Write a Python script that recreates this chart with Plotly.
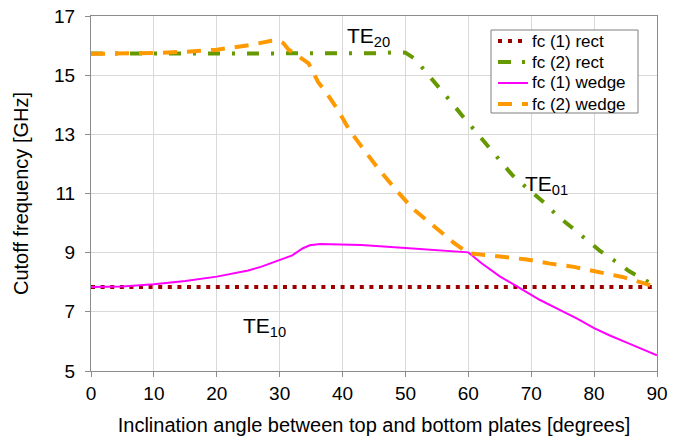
import plotly.graph_objects as go

# ---- data ----
angle_rect1 = [0, 90]
fc1_rect = [7.84, 7.84]

angle_rect2 = [0, 10, 20, 30, 40, 46, 48, 50, 51.5, 53, 55, 57, 59, 61, 63, 65, 67,
               69.5, 72, 74, 76.5, 78.8, 81, 83.8, 85.6, 87.2, 90]
fc2_rect = [15.73, 15.73, 15.73, 15.73, 15.73, 15.74, 15.77, 15.76, 15.55, 15.18, 14.68,
            14.16, 13.64, 13.13, 12.6, 12.1, 11.62, 11.15, 10.7, 10.28, 9.84, 9.43, 9.05,
            8.65, 8.37, 8.18, 7.85]

angle_wedge1 = [0, 5, 10, 15, 20, 25, 27, 30, 32, 33.7, 34.8, 36.4, 40, 43, 50, 55, 60,
                62, 65, 68.2, 71.4, 74.6, 77.3, 80, 82.5, 85.2, 87.5, 90]
fc1_wedge = [7.84, 7.86, 7.93, 8.04, 8.19, 8.4, 8.52, 8.75, 8.91, 9.15, 9.25, 9.29, 9.28,
             9.26, 9.16, 9.09, 9.01, 8.66, 8.2, 7.8, 7.4, 7.06, 6.77, 6.45, 6.2, 5.96,
             5.75, 5.53]

angle_wedge2 = [0, 5, 10, 15, 20, 25.3, 27, 28.7, 29.8, 30.6, 31.4, 32.7, 34.6, 36.1, 37.7,
                39.3, 41.1, 43.5, 45.9, 48.6, 51.2, 54.4, 57.6, 60, 65, 69.3, 73, 76.8,
                79.9, 84.5, 88.5, 90]
fc2_wedge = [15.72, 15.73, 15.75, 15.79, 15.86, 16.02, 16.1, 16.16, 16.17, 16.08, 15.87,
             15.68, 15.4, 14.77, 14.32, 13.81, 13.14, 12.45, 11.78, 11.1, 10.48, 9.92,
             9.35, 8.98, 8.88, 8.77, 8.63, 8.52, 8.38, 8.18, 7.93, 7.85]

series_names = ["fc (1) rect", "fc (2) rect", "fc (1) wedge", "fc (2) wedge"]

x_ticks = [0, 10, 20, 30, 40, 50, 60, 70, 80, 90]
y_ticks = [5, 7, 9, 11, 13, 15, 17]

FONT = "Liberation Sans, Arial, sans-serif"

styles = [
    dict(color="#990000", width=4, dash="4px,5.6px"),
    dict(color="#669900", width=4, dash="12px,12px,3px,12px"),
    dict(color="#FF00FF", width=2),
    dict(color="#FF9900", width=4, dash="14px,10px"),
]
legend_styles = [
    dict(color="#990000", width=4, dash="4px,6px"),
    dict(color="#669900", width=4, dash="13px,11px,3px,12px"),
    dict(color="#FF00FF", width=2),
    dict(color="#FF9900", width=4, dash="14px,10px"),
]

xs = [angle_rect1, angle_rect2, angle_wedge1, angle_wedge2]
ys = [fc1_rect, fc2_rect, fc1_wedge, fc2_wedge]

fig = go.Figure()
for xv, yv, nm, st in zip(xs, ys, series_names, styles):
    fig.add_trace(go.Scatter(x=xv, y=yv, mode="lines", name=nm, line=st,
                             showlegend=False))

ann_font = dict(family=FONT, size=21, color="black")
fig.add_annotation(x=40.4, y=16.3, text="TE<sub>20</sub>", showarrow=False,
                   xanchor="left", yanchor="middle", font=ann_font)
fig.add_annotation(x=68.7, y=11.3, text="TE<sub>01</sub>", showarrow=False,
                   xanchor="left", yanchor="middle", font=ann_font)
fig.add_annotation(x=23.9, y=6.48, text="TE<sub>10</sub>", showarrow=False,
                   xanchor="left", yanchor="middle", font=ann_font)

# ---- legend box drawn in paper coordinates ----
PL, PR, PT, PB = 91, 657, 16, 371
def px_x(p):
    return (p - PL) / (PR - PL)
def px_y(p):
    return 1 - (p - PT) / (PB - PT)

fig.add_shape(type="rect", xref="paper", yref="paper",
              x0=px_x(491), x1=px_x(638), y0=px_y(113), y1=px_y(30),
              line=dict(color="#7F7F7F", width=1), fillcolor="white", layer="above")
row_y = [41, 62, 83, 104]
for ry, nm, st in zip(row_y, series_names, legend_styles):
    fig.add_shape(type="line", xref="paper", yref="paper",
                  x0=px_x(498), x1=px_x(528), y0=px_y(ry), y1=px_y(ry),
                  line=st, layer="above")
    fig.add_annotation(xref="paper", yref="paper", x=px_x(530), y=px_y(ry),
                       text=nm, showarrow=False, xanchor="left", yanchor="middle",
                       font=dict(family=FONT, size=17, color="black"))

axis_common = dict(showgrid=True, gridcolor="#D9D9D9", gridwidth=1, zeroline=False,
                   showline=True, linecolor="#8C8C8C", linewidth=1, mirror=True,
                   ticks="outside", ticklen=5, tickcolor="#8C8C8C", automargin=False,
                   tickfont=dict(family=FONT, size=19, color="black"))

fig.update_xaxes(range=[0, 90], tickvals=x_ticks,
                 title=dict(text="Inclination angle between top and bottom plates [degrees]",
                            font=dict(family=FONT, size=20, color="black"), standoff=16),
                 **axis_common)
fig.update_yaxes(range=[5, 17], tickvals=y_ticks, ticklabelstandoff=6,
                 title=dict(text="Cutoff frequency [GHz]",
                            font=dict(family=FONT, size=20, color="black"), standoff=20),
                 **axis_common)

fig.update_layout(
    width=682, height=436,
    margin=dict(l=91, r=25, t=16, b=65, autoexpand=False),
    paper_bgcolor="white", plot_bgcolor="white",
    font=dict(family=FONT, color="black"),
    showlegend=False,
)

fig.write_html("out.html")
